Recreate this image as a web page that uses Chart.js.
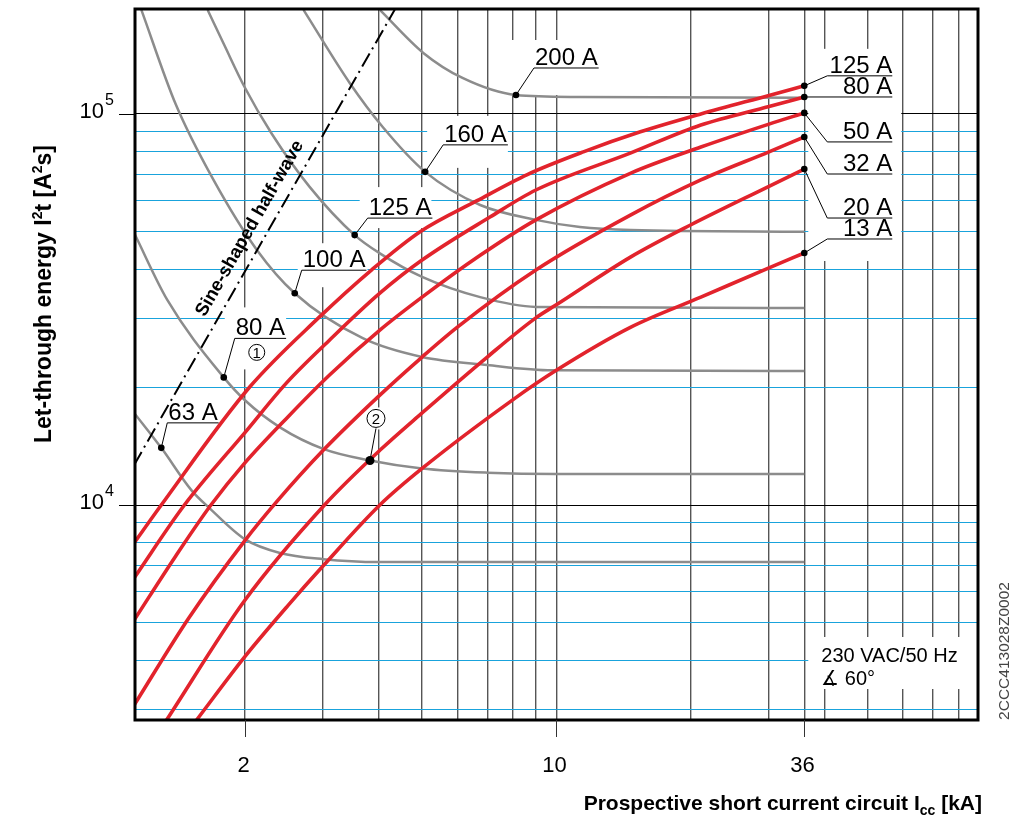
<!DOCTYPE html>
<html>
<head>
<meta charset="utf-8">
<script src="https://cdn.jsdelivr.net/npm/chart.js@4.4.0/dist/chart.umd.min.js"></script>
<style>
  html, body { margin: 0; padding: 0; background: #fff; }
  #wrap { width: 1017px; height: 820px; }
</style>
</head>
<body>
<div id="wrap"><canvas id="chart" width="1017" height="820"></canvas></div>
<script>
// axis ranges and grid values
const xMin = 1.135, xMax = 88.3;
const yMin = 2820, yMax = 185500;
const xGrid = [2, 3, 4, 5, 6, 7, 8, 9, 10, 20, 30, 36, 40, 50, 60, 70, 80];
const yGrid = [3000, 4000, 5000, 6000, 7000, 8000, 9000, 10000,
  20000, 30000, 40000, 50000, 60000, 70000, 80000, 90000, 100000];
const xTickLabels = [2, 10, 36];
const yTickLabels = [10000, 100000];

// red curves: let-through energy of the MCBs (kA, A²s)
const red125X = [1.13, 1.30, 2.05, 2.92, 3.86, 4.95, 6.64, 8.61, 11.5, 15.44, 21.1, 30, 36];
const red125Y = [8000, 10000, 20000, 30000, 40000, 50000, 60000, 70000, 80000, 90000, 100000, 111500, 118000];
const red80X = [1.13, 1.465, 2.02, 2.48, 3.11, 4.02, 5.0, 7.1, 9.0, 14.7, 21.1, 30, 36];
const red80Y = [6510, 10000, 15500, 20500, 26500, 34800, 42300, 54500, 63900, 79500, 93700, 104500, 110500];
const red50X = [1.13, 1.4, 1.68, 2.0, 2.5, 3.1, 4.02, 5.0, 6.75, 9.0, 14.7, 21.1, 30, 36];
const red50Y = [5080, 7400, 10000, 12800, 16800, 21500, 28000, 34000, 43500, 53600, 70600, 82300, 94200, 100600];
const red32X = [1.13, 1.5, 2.0, 2.36, 3.0, 4.02, 5.0, 6.0, 9.0, 14.7, 21.1, 30, 36];
const red32Y = [3080, 5150, 8100, 10200, 13800, 19100, 23900, 28500, 39900, 55200, 67800, 80000, 87300];
const red20X = [1.336, 2.0, 3.02, 4.02, 5.0, 7.0, 9.0, 10, 14.7, 20, 30, 36];
const red20Y = [2820, 5700, 10000, 13800, 17200, 23900, 30100, 32500, 43100, 52000, 65300, 72300];
const red13X = [1.56, 2.0, 2.5, 3.0, 4.02, 5.0, 8.0, 10, 14.7, 21.1, 30, 36];
const red13Y = [2820, 4090, 5530, 6990, 10000, 12400, 18600, 22100, 28500, 34000, 40400, 44100];

// grey curves: upstream fuses
const g63X = [1.13, 1.30, 1.52, 1.67, 2.0, 2.4, 3.0, 4.0, 36];
const g63Y = [17200, 14000, 10900, 9800, 8180, 7540, 7270, 7150, 7150];
const g80X = [1.13, 1.342, 1.795, 2.0, 2.4, 3.01, 3.82, 5.0, 7.0, 10, 36];
const g80Y = [49600, 33400, 21200, 18560, 15800, 13900, 13000, 12400, 12100, 12000, 12000];
const g100X = [1.173, 1.4, 1.7, 2.13, 2.59, 3.68, 5.0, 7.0, 9.8, 36];
const g100Y = [184500, 106000, 68000, 44900, 34800, 26700, 23900, 22800, 22100, 22000];
const g125X = [1.652, 1.8, 2.0, 2.3, 2.8, 3.53, 4.02, 5.0, 6.75, 9.0, 36];
const g125Y = [184500, 150000, 117000, 89000, 65000, 49000, 44000, 38300, 34000, 32100, 31900];
const g160X = [2.71, 3.44, 4.08, 5.08, 6.75, 9.0, 11.3, 14.7, 36];
const g160Y = [184500, 120000, 92600, 71100, 58500, 53600, 51400, 50500, 50000];
const g200X = [4.02, 5.04, 6.16, 8.12, 11.3, 36];
const g200Y = [184500, 143000, 123600, 111800, 110500, 110000];

// sine-shaped half-wave reference line
const sineX = [1.13, 4.35];
const sineY = [12660, 185500];

const RED = '#e2232c';
const GREY = '#8c8c8c';
const BLUE = '#19a3dc';
const F = '"Liberation Sans", Arial, Helvetica, sans-serif';

const redCurves = [
  { name: '125 A', xs: red125X, ys: red125Y, oy: -10 },
  { name: '80 A', xs: red80X, ys: red80Y, oy: 0 },
  { name: '50 A', xs: red50X, ys: red50Y, oy: 29 },
  { name: '32 A', xs: red32X, ys: red32Y, oy: 37 },
  { name: '20 A', xs: red20X, ys: red20Y, oy: 49 },
  { name: '13 A', xs: red13X, ys: red13Y, oy: -14 }
];
// dot = index of the labelled point; ox/oy = underline start from the dot; box = white pad [l, t, r, b]
const greyCurves = [
  { name: '63 A', xs: g63X, ys: g63Y, dot: 1, ox: 6, oy: -25, box: [6, 28, 4, 6] },
  { name: '80 A', xs: g80X, ys: g80Y, dot: 2, ox: 11, oy: -39, box: [10, 31, 2, 31] },
  { name: '100 A', xs: g100X, ys: g100Y, dot: 4, ox: 7, oy: -23, box: [4, 27, 3, 17] },
  { name: '125 A', xs: g125X, ys: g125Y, dot: 5, ox: 13, oy: -17, box: [8, 31, 1, 10] },
  { name: '160 A', xs: g160X, ys: g160Y, dot: 3, ox: 18, oy: -27, box: [16, 29, 2, 23] },
  { name: '200 A', xs: g200X, ys: g200Y, dot: 3, ox: 18, oy: -27, box: [25, 28, 6, 27] }
];
const markIdx = 6; // point ② on the 80 A fuse curve

function line(xs, ys, color, width, extra) {
  return Object.assign({
    data: xs.map((x, i) => ({ x: x, y: ys[i] })),
    showLine: true,
    borderColor: color,
    borderWidth: width,
    pointRadius: 0,
    cubicInterpolationMode: 'monotone',
    fill: false
  }, extra || {});
}

const dots = [];
greyCurves.forEach(c => dots.push({ x: c.xs[c.dot], y: c.ys[c.dot] }));
redCurves.forEach(c => dots.push({ x: c.xs[c.xs.length - 1], y: c.ys[c.ys.length - 1] }));
dots.push({ x: g80X[markIdx], y: g80Y[markIdx] });

const datasets = [
  { data: dots, showLine: false, pointRadius: dots.map((d, i) => i === dots.length - 1 ? 4.5 : 3.3),
    pointBackgroundColor: '#000', pointBorderWidth: 0 }
];
redCurves.forEach(c => datasets.push(line(c.xs, c.ys, RED, 3.6)));
datasets.push(line(sineX, sineY, '#000', 2, { borderDash: [15, 5, 2, 5], cubicInterpolationMode: 'default', tension: 0 }));
greyCurves.forEach(c => datasets.push(line(c.xs, c.ys, GREY, 2.5)));

function circled(ctx, cx, cy, r, t) {
  ctx.beginPath();
  ctx.arc(cx, cy, r, 0, Math.PI * 2);
  ctx.fillStyle = '#fff';
  ctx.fill();
  ctx.lineWidth = 1;
  ctx.strokeStyle = '#000';
  ctx.stroke();
  ctx.fillStyle = '#000';
  ctx.font = '15px ' + F;
  ctx.textAlign = 'center';
  ctx.textBaseline = 'middle';
  ctx.fillText(t, cx, cy + 1);
}

const overlay = {
  id: 'overlay',
  beforeDatasetsDraw(chart) {
    const { ctx, chartArea: a } = chart;
    const X = v => chart.scales.x.getPixelForValue(v);
    const Y = v => chart.scales.y.getPixelForValue(v);
    ctx.save();
    ctx.fillStyle = '#fff';
    ctx.font = '24px ' + F;
    greyCurves.forEach(c => {
      const ux = X(c.xs[c.dot]) + c.ox, uy = Y(c.ys[c.dot]) + c.oy;
      const tw = ctx.measureText(c.name).width;
      const b = c.box;
      ctx.fillRect(ux - b[0], uy - b[1], tw + b[0] + b[2], b[1] + b[3]);
    });
    const mx = X(g80X[markIdx]) + 6, my = Y(g80Y[markIdx]) - 42;
    ctx.fillRect(mx - 11, my - 11, 22, 22);
    const x36 = X(36);
    const top = Y(red125Y[red125Y.length - 1]) - 37;
    const bot = Y(red13Y[red13Y.length - 1]) + 8;
    ctx.fillRect(x36 + 4, top, 93, bot - top);
    ctx.fillRect(x36 + 4, a.bottom - 83, a.right - x36 - 4, 52);
    ctx.restore();
  },
  afterDatasetsDraw(chart) {
    const { ctx, chartArea: a } = chart;
    const X = v => chart.scales.x.getPixelForValue(v);
    const Y = v => chart.scales.y.getPixelForValue(v);
    ctx.save();
    ctx.fillStyle = '#000';
    ctx.strokeStyle = '#000';
    ctx.lineWidth = 1;
    ctx.font = '24px ' + F;
    ctx.textBaseline = 'alphabetic';

    // fuse labels
    greyCurves.forEach(c => {
      const dx = X(c.xs[c.dot]), dy = Y(c.ys[c.dot]);
      const ux = dx + c.ox, uy = dy + c.oy;
      const tw = ctx.measureText(c.name).width;
      ctx.beginPath();
      ctx.moveTo(dx, dy); ctx.lineTo(ux, uy); ctx.lineTo(ux + tw + 2, uy);
      ctx.stroke();
      ctx.textAlign = 'left';
      ctx.fillText(c.name, ux + 1, uy - 3);
    });
    // ① under the 80 A label
    const c80 = greyCurves[1];
    circled(ctx, X(c80.xs[c80.dot]) + c80.ox + 22, Y(c80.ys[c80.dot]) + c80.oy + 14, 8, '1');
    // ② on the 80 A fuse curve
    const mdx = X(g80X[markIdx]), mdy = Y(g80Y[markIdx]);
    ctx.beginPath();
    ctx.moveTo(mdx, mdy); ctx.lineTo(mdx + 6, mdy - 32);
    ctx.stroke();
    circled(ctx, mdx + 6, mdy - 42, 9, '2');

    // MCB labels on the right
    ctx.font = '24px ' + F;
    ctx.textBaseline = 'alphabetic';
    redCurves.forEach(c => {
      const dx = X(c.xs[c.xs.length - 1]), dy = Y(c.ys[c.ys.length - 1]);
      const uy = dy + c.oy;
      const ux = c.oy === 0 ? dx : dx + 23;
      ctx.beginPath();
      ctx.moveTo(dx, dy); ctx.lineTo(ux, uy); ctx.lineTo(dx + 88, uy);
      ctx.stroke();
      ctx.textAlign = 'right';
      ctx.fillText(c.name, dx + 88, uy - 3);
    });

    // sine-shaped half-wave label along the dash-dot line
    const p0 = { x: X(sineX[0]), y: Y(sineY[0]) }, p1 = { x: X(sineX[1]), y: Y(sineY[1]) };
    const ang = Math.atan2(p1.y - p0.y, p1.x - p0.x);
    const len = Math.hypot(p1.x - p0.x, p1.y - p0.y);
    const ux0 = Math.cos(ang), uy0 = Math.sin(ang);
    const off = 17;
    const cx = p0.x + ux0 * len * 0.5 + uy0 * off, cy = p0.y + uy0 * len * 0.5 - ux0 * off;
    ctx.save();
    ctx.translate(cx, cy);
    ctx.rotate(ang);
    ctx.font = 'bold 18.5px ' + F;
    ctx.textAlign = 'center';
    ctx.textBaseline = 'middle';
    ctx.fillText('Sine-shaped half-wave', 0, 0);
    ctx.restore();

    // supply note
    const x36 = X(36);
    ctx.font = '20px ' + F;
    ctx.textAlign = 'left';
    ctx.fillText('230 VAC/50 Hz', x36 + 17, a.bottom - 58);
    ctx.fillText('\u2221 60°', x36 + 17, a.bottom - 35);

    // frame
    ctx.lineWidth = 3;
    ctx.strokeRect(a.left, a.top, a.right - a.left, a.bottom - a.top);

    // y ticks and labels
    ctx.lineWidth = 1;
    yTickLabels.forEach(v => {
      const y = Math.round(Y(v)) + 0.5;
      ctx.beginPath(); ctx.moveTo(a.left - 16, y); ctx.lineTo(a.left, y); ctx.stroke();
      const e = String(Math.round(Math.log10(v)));
      ctx.font = '22px ' + F;
      ctx.textAlign = 'right';
      ctx.fillText('10', a.left - 31, y + 3);
      ctx.font = '16px ' + F;
      ctx.textAlign = 'left';
      ctx.fillText(e, a.left - 30, y - 10);
    });
    // x ticks and labels
    ctx.strokeStyle = '#333';
    xTickLabels.forEach(v => {
      const x = Math.round(X(v)) + 0.5;
      ctx.beginPath(); ctx.moveTo(x, a.bottom); ctx.lineTo(x, a.bottom + 17); ctx.stroke();
      ctx.font = '22px ' + F;
      ctx.textAlign = 'center';
      ctx.fillText(String(v), x - 2, a.bottom + 52);
    });

    // x axis title with subscript
    const parts = [['Prospective short current circuit I', 'bold 21px ', 0], ['cc', 'bold 14px ', 5], [' [kA]', 'bold 21px ', 0]];
    let tot = 0;
    parts.forEach(p => { ctx.font = p[1] + F; tot += ctx.measureText(p[0]).width; });
    let xx = a.right + 4 - tot;
    ctx.textAlign = 'left';
    parts.forEach(p => { ctx.font = p[1] + F; ctx.fillText(p[0], xx, 810 + p[2]); xx += ctx.measureText(p[0]).width; });

    // y axis title with superscripts
    const yparts = [['Let-through energy I', 'bold 23px ', 0], ['2', 'bold 14px ', -9], ['t [A', 'bold 23px ', 0], ['2', 'bold 14px ', -9], ['s]', 'bold 23px ', 0]];
    let ytot = 0;
    yparts.forEach(p => { ctx.font = p[1] + F; ytot += ctx.measureText(p[0]).width; });
    ctx.save();
    ctx.translate(51, 294);
    ctx.rotate(-Math.PI / 2);
    let yy = -ytot / 2;
    yparts.forEach(p => { ctx.font = p[1] + F; ctx.fillText(p[0], yy, p[2]); yy += ctx.measureText(p[0]).width; });
    ctx.restore();

    // drawing id on the right edge
    ctx.save();
    ctx.translate(1009, 651);
    ctx.rotate(-Math.PI / 2);
    ctx.font = '15.5px ' + F;
    ctx.fillStyle = '#444';
    ctx.textAlign = 'center';
    ctx.fillText('2CCC413028Z0002', 0, 0);
    ctx.restore();

    ctx.restore();
  }
};

new Chart(document.getElementById('chart'), {
  type: 'scatter',
  data: { datasets: datasets },
  options: {
    responsive: false,
    animation: false,
    devicePixelRatio: 1,
    layout: { padding: { left: 135, right: 39, top: 9, bottom: 100 } },
    plugins: { legend: { display: false }, tooltip: { enabled: false } },
    scales: {
      x: {
        type: 'logarithmic', min: xMin, max: xMax,
        afterBuildTicks: s => { s.ticks = xGrid.map(v => ({ value: v })); },
        ticks: { display: false },
        grid: { color: '#555', lineWidth: 1.4, drawTicks: false },
        border: { display: false }
      },
      y: {
        type: 'logarithmic', min: yMin, max: yMax,
        afterBuildTicks: s => { s.ticks = yGrid.map(v => ({ value: v })); },
        ticks: { display: false },
        grid: {
          color: c => (c.tick && (c.tick.value === 10000 || c.tick.value === 100000)) ? '#000' : BLUE,
          lineWidth: 1, drawTicks: false
        },
        border: { display: false }
      }
    }
  },
  plugins: [overlay]
});
</script>
</body>
</html>
